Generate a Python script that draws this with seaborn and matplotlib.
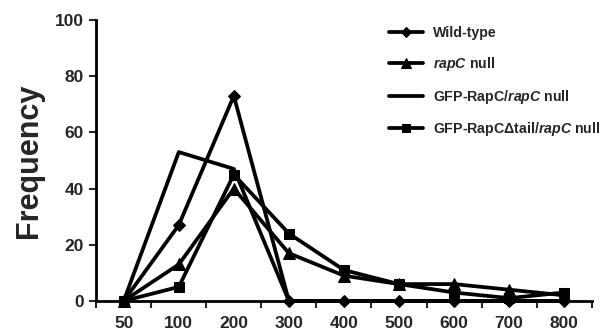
import pandas as pd
import numpy as np
import matplotlib
matplotlib.use('Agg')
import matplotlib.pyplot as plt
import seaborn as sns

# data
sizes = ['50', '100', '200', '300', '400', '500', '600', '700', '800']
wild_type = [0, 27, 73, 0, 0, 0, 0, 0, 0]
rapc_null = [0, 13, 40, 17, 9, 6, 6, 4, 2]
gfp_rapc = [0, 53, 47, 0, 0, 0, 0, 0, 0]
gfp_rapc_dtail = [0, 5, 45, 24, 11, 6, 3, 1, 3]

labels = ['Wild-type',
          r'$\mathit{rapC}$ null',
          r'GFP-RapC/$\mathit{rapC}$ null',
          r'GFP-RapCΔtail/$\mathit{rapC}$ null']
series = [wild_type, rapc_null, gfp_rapc, gfp_rapc_dtail]
markers = ['D', '^', None, 's']
msizes = [6, 8, 0, 7]

sns.set_style('white')
plt.rcParams['font.family'] = ['Liberation Sans', 'DejaVu Sans']
plt.rcParams['font.weight'] = 'bold'
plt.rcParams['mathtext.fontset'] = 'custom'
plt.rcParams['mathtext.it'] = 'Liberation Sans:italic:bold'
plt.rcParams['mathtext.rm'] = 'Liberation Sans:bold'

fig = plt.figure(figsize=(6.05, 3.34), dpi=100)
ax = fig.add_axes([0.159, 0.099, 0.819, 0.841])

pos = np.arange(len(sizes))
for vals, lab, mk, ms in zip(series, labels, markers, msizes):
    df = pd.DataFrame({'x': pos, 'y': vals})
    sns.lineplot(data=df, x='x', y='y', ax=ax, color='black', linewidth=2.7,
                 marker=mk if mk else '', markersize=ms, markeredgecolor='black',
                 label=lab, clip_on=False)

ax.set_xlim(-0.5, len(sizes) - 0.5)
ax.set_ylim(0, 100)
ax.set_yticks([0, 20, 40, 60, 80, 100])
ax.set_xticks(pos)
ax.set_xticklabels(sizes)
ax.set_xticks(np.arange(-0.5, len(sizes)), minor=True)
ax.tick_params(axis='x', which='major', length=0, pad=11, labelsize=12.5)
ax.tick_params(axis='x', which='minor', length=5, width=1.5, direction='out', bottom=True)
ax.tick_params(axis='y', length=5, width=1.5, direction='out', left=True, labelsize=12.5, pad=4)
for t in ax.get_xticklabels() + ax.get_yticklabels():
    t.set_fontweight('bold')

ax.set_xlabel('')
ax.set_ylabel('Frequency', fontsize=22, fontweight='bold', labelpad=8)

for side in ['top', 'right']:
    ax.spines[side].set_visible(False)
for side in ['left', 'bottom']:
    ax.spines[side].set_linewidth(2)
    ax.spines[side].set_color('black')

leg = ax.legend(loc='upper left', bbox_to_anchor=(0.565, 1.025), frameon=False,
                handlelength=2.4, labelspacing=1.05, handletextpad=0.7,
                markerscale=0.85, prop={'size': 10.2, 'weight': 'bold'})

fig.savefig('out.png', dpi=100)
